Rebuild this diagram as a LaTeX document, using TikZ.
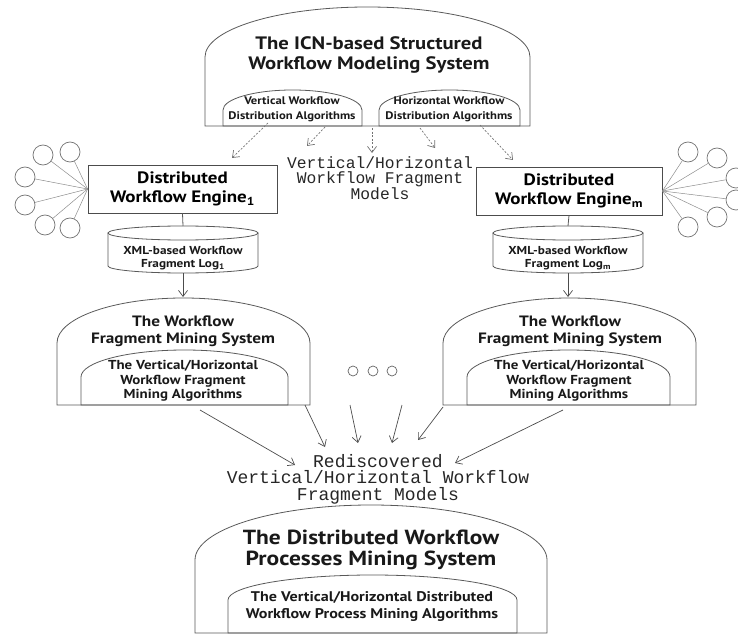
\documentclass[tikz,border=0pt]{standalone}
\usepackage{fontspec}
\setmainfont[FakeStretch=1.15]{PT Sans}
\setmonofont{Liberation Mono}
\usetikzlibrary{arrows.meta}
\newcommand\mkdome[6]{% name, left, right, base, shoulder, apex
  \draw[domeline] (#2,#4) -- (#2,#5)
    arc[start angle=180,end angle=0,x radius={(#3-#2)/2*1pt},y radius={(#5-#6)*1pt}]
    -- (#3,#4) -- cycle;
  \coordinate (#1) at ({(#2+#3)/2},#4);}
\newcommand\mklog[5]{% name, left, right, top, bottom
  \draw[domeline] (#2,#4) -- (#2,#5-7)
    arc[start angle=180,end angle=360,x radius={(#3-#2)/2*1pt},y radius=7pt]
    -- (#3,#4);
  \draw[domeline] ({(#2+#3)/2},#4) ellipse[x radius={(#3-#2)/2*1pt},y radius=7pt];
  \coordinate (#1top) at ({(#2+#3)/2},#4-7);
  \coordinate (#1bot) at ({(#2+#3)/2},#5);}
\begin{document}
\begin{tikzpicture}[x=1pt,y=-1pt,
  domeline/.style={draw=black!65, line width=0.8pt},
  tipv/.style={-{Straight Barb[length=6pt,width=9pt]}},
  dasharrow/.style={draw=black!55, line width=0.7pt, dash pattern=on 2pt off 1.6pt, tipv},
  solidarrow/.style={draw=black!70, line width=0.7pt, tipv},
  spoke/.style={draw=black!45, line width=0.5pt},
  ball/.style={circle, draw=black!55, line width=0.7pt, minimum size=20pt, inner sep=0pt},
  dot/.style={circle, draw=black!60, line width=0.7pt, minimum size=10pt, inner sep=0pt},
  enginebox/.style={draw=black!70, line width=0.8pt, minimum width=189pt, minimum height=48pt, inner sep=0pt,
     font=\fontsize{16.5}{19}\selectfont\bfseries, align=center},
  txt/.style={inner sep=0pt, align=center, text=black!90},
  mono/.style={inner sep=0pt, align=center, text=black!85},
]
\useasboundingbox (0,0) rectangle (738,636);
% top system
\mkdome{topbase}{205}{530}{126}{57}{7}
\mkdome{vdbase}{223}{362}{126}{110}{90}
\mkdome{hdbase}{379}{520}{126}{110}{90}
\node[txt, font=\fontsize{18}{20}\selectfont\bfseries] (top) at (369,55) {The ICN-based Structured\\Workflow Modeling System};
\node[txt, font=\fontsize{11}{15}\selectfont\bfseries] (vd) at (292,109) {Vertical Workflow\\Distribution Algorithms};
\node[txt, font=\fontsize{11}{15}\selectfont\bfseries] (hd) at (449,109) {Horizontal Workflow\\Distribution Algorithms};
\node[mono, font=\fontsize{16.3}{15.5}\ttfamily] (frag) at (380,178) {Vertical/Horizontal\\Workflow Fragment\\Models};
% engines
\node[enginebox] (e1) at (182.5,189) {Distributed\\Workflow Engine\textsubscript{1}};
\node[enginebox, minimum width=186pt] (em) at (569,191) {Distributed\\Workflow Engine\textsubscript{m}};
% dashed arrows
\coordinate (d1s) at (268,123); \coordinate (d1e) at (232,158);
\coordinate (d2s) at (325,127); \coordinate (d2e) at (307,146);
\coordinate (d3s) at (372,128); \coordinate (d3e) at (372,153);
\coordinate (d4s) at (420,128); \coordinate (d4e) at (435,148);
\coordinate (d5s) at (480,125); \coordinate (d5e) at (513,160);
\draw[dasharrow] (d1s) -- (d1e);
\draw[dasharrow] (d2s) -- (d2e);
\draw[dasharrow] (d3s) -- (d3e);
\draw[dasharrow] (d4s) -- (d4e);
\draw[dasharrow] (d5s) -- (d5e);
% left clients
\node[ball] (l1) at (43,155) {};
\node[ball] (l2) at (70,152) {};
\node[ball] (l3) at (25,177) {};
\node[ball] (l4) at (25,205) {};
\node[ball] (l5) at (45,225) {};
\node[ball] (l6) at (70,228) {};
\foreach \c in {l1,l2,l3,l4,l5,l6} \draw[spoke] (\c) -- (e1.west);
% right clients
\node[ball] (r1) at (688,152) {};
\node[ball] (r2) at (717,158) {};
\node[ball] (r3) at (736,178) {};
\node[ball] (r4) at (736,200) {};
\node[ball] (r5) at (717,217) {};
\node[ball] (r6) at (688,227) {};
\foreach \c in {r1,r2,r3,r4,r5,r6} \draw[spoke] (\c) -- (em.east);
% logs
\mklog{lg1}{108}{258}{233}{273}
\mklog{lgm}{493}{643}{233}{273}
\node[txt, font=\fontsize{11.5}{13.5}\selectfont\bfseries] (log1) at (183,258) {XML-based Workflow\\Fragment Log\textsubscript{1}};
\node[txt, font=\fontsize{11.5}{13.5}\selectfont\bfseries] (logm) at (568,258) {XML-based Workflow\\Fragment Log\textsubscript{m}};
\draw[domeline] (e1.south) -- (lg1top);
\draw[domeline] (em.south) -- (lgmtop);
% mining systems
\mkdome{mlbase}{57}{310}{405}{343}{298}
\mkdome{mlin}{81}{288}{405}{377}{350}
\mkdome{mrbase}{443}{696}{405}{343}{298}
\mkdome{mrin}{467}{670}{405}{377}{350}
\coordinate (ml) at (183,297);
\coordinate (mr) at (568,297);
\draw[solidarrow] (lg1bot) -- (ml);
\draw[solidarrow] (lgmbot) -- (mr);
\node[txt, font=\fontsize{15}{17}\selectfont\bfseries] (mlt) at (183,331) {The Workflow\\Fragment Mining System};
\node[txt, font=\fontsize{13}{14.5}\selectfont\bfseries] (mli) at (183,381) {The Vertical/Horizontal\\Workflow Fragment\\Mining Algorithms};
\node[txt, font=\fontsize{15}{17}\selectfont\bfseries] (mrt) at (570,331) {The Workflow\\Fragment Mining System};
\node[txt, font=\fontsize{13}{14.5}\selectfont\bfseries] (mri) at (569,381) {The Vertical/Horizontal\\Workflow Fragment\\Mining Algorithms};
% dots
\node[dot] (o1) at (353,371) {};
\node[dot] (o2) at (373,371) {};
\node[dot] (o3) at (392,371) {};
% rediscovered
\node[mono, font=\fontsize{18}{16.5}\ttfamily] (red) at (378,479) {Rediscovered\\Vertical/Horizontal Workflow\\Fragment Models};
\coordinate (a1s) at (200,410); \coordinate (a1e) at (295,465);
\coordinate (a2s) at (305,405); \coordinate (a2e) at (325,447);
\coordinate (a3s) at (350,405); \coordinate (a3e) at (358,443);
\coordinate (a4s) at (402,405); \coordinate (a4e) at (392,443);
\coordinate (a5s) at (443,407); \coordinate (a5e) at (418,440);
\coordinate (a6s) at (563,410); \coordinate (a6e) at (455,463);
\foreach \i in {1,...,6} \draw[solidarrow] (a\i s) -- (a\i e);
% bottom system
\mkdome{bbase}{195}{547}{633}{560}{505}
\mkdome{bin}{228}{517}{633}{600}{575}
\node[txt, font=\fontsize{20.4}{20.5}\selectfont\bfseries] (bt) at (371,550) {The Distributed Workflow\\Processes Mining System};
\node[txt, font=\fontsize{14}{17}\selectfont\bfseries] (bi) at (372,606) {The Vertical/Horizontal Distributed\\Workflow Process Mining Algorithms};
\end{tikzpicture}
\end{document}
